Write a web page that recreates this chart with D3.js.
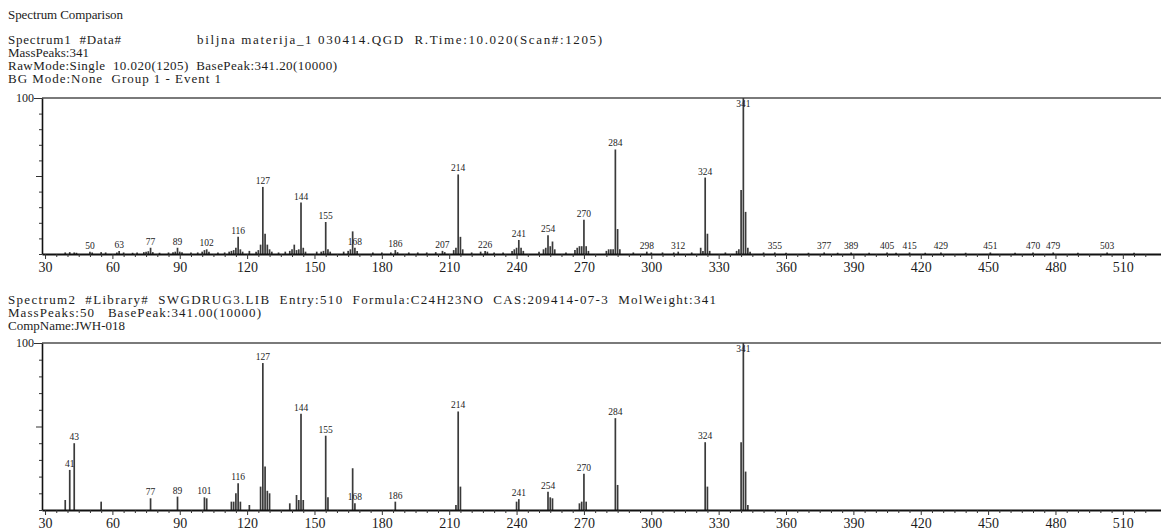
<!DOCTYPE html>
<html><head><meta charset="utf-8">
<script src="https://cdn.jsdelivr.net/npm/d3@7"></script>
<style>
body{margin:0;background:#fff}
svg{display:block}
text{font-family:"Liberation Serif","Times New Roman",serif;fill:#1c1c1c;white-space:pre}
</style>
</head><body><div id="chart"></div>
<script>
// ---------- DATA ----------
const titleText = "Spectrum Comparison";
const header1Left = ["Spectrum1  #Data#", "MassPeaks:341", "RawMode:Single  10.020(1205)  BasePeak:341.20(10000)", "BG Mode:None  Group 1 - Event 1"];
const header1Right = "biljna materija_1 030414.QGD  R.Time:10.020(Scan#:1205)";
const header2 = ["Spectrum2  #Library#  SWGDRUG3.LIB  Entry:510  Formula:C24H23NO  CAS:209414-07-3  MolWeight:341", "MassPeaks:50   BasePeak:341.00(10000)", "CompName:JWH-018"];

// Spectrum 1 (measured) m/z and relative intensity (%)
const mz1 = [39,41,43,44,50,51,55,57,62,63,65,69,71,74,75,76,77,78,81,85,87,88,89,90,91,95,98,100,101,102,103,107,110,112,113,114,115,116,117,118,121,124,125,126,127,128,129,130,131,134,137,139,140,141,142,143,144,145,146,151,153,154,155,156,157,163,165,166,167,168,169,176,180,184,186,187,192,196,200,204,207,208,212,213,214,215,216,220,224,226,227,230,234,238,239,240,241,242,243,250,252,253,254,255,256,257,262,266,267,268,269,270,271,272,280,281,282,283,284,285,286,292,298,300,305,310,312,318,322,323,324,325,326,333,338,339,340,341,342,343,344,350,355,360,370,377,383,389,397,405,409,415,422,429,440,451,462,470,479,490,503,515];
const int1 = [1,1.2,1,0.8,1.5,1,1.2,1,1,2,1,0.8,1,1.2,1.5,1.8,4,1.2,0.8,1,1.2,1.5,4,1.5,1.2,1,1,1.5,2.5,3,1.5,1,1,1.5,2,2.5,4,11,3,1.5,2,1.5,2.5,6,43,13,6,3,1.5,1,1.5,2,3,6,2.5,3,33,4,1.5,1.5,1.5,2,20.5,3,1.5,1.5,2,3,14.5,4,2,1,1,1,2.5,1.2,1,1,1,1.2,2,1.2,2.5,4,51,11,3,1,1.5,2,1.5,1,1,2,3,4,9,4,2,1.5,3,4,12,5,8,3,1,2.5,4,5,5,22,5,2,2,3,3,3,67,16,3,1,1.5,1,1,1,1.5,1,4,2,49,13,2,1,2,3,41,100,27,4,1.5,1,1,0.8,0.8,1,0.8,1,0.8,1,0.8,1,0.8,1,0.8,1,0.8,1,1,0.8,1,0.8];
const labels1 = [50,63,77,89,102,116,127,144,155,168,186,207,214,226,241,254,270,284,298,312,324,341,355,377,389,405,415,429,451,470,479,503];

// Spectrum 2 (library, JWH-018)
const mz2 = [39,41,43,55,77,89,101,102,113,114,115,116,117,121,126,127,128,129,130,139,142,143,144,145,155,156,167,168,186,213,214,215,240,241,254,255,256,268,269,270,271,284,285,324,325,340,341,342,343];
const int2 = [6,24,40,5,7,8,7.6,7,5,5,10,16,5,3,14,88,26,11.5,10,4,9,6,57.6,6,44.5,7.6,25,4,5,3,59,14,5,6.5,11,7.6,7,4,5,21.7,5,55,15,40.6,14,40.6,100,23,3];
const labels2 = [41,43,77,89,101,116,127,144,155,168,186,214,241,254,270,284,324,341];

// Axis ticks
const xMajorTicks = [30,60,90,120,150,180,210,240,270,300,330,360,390,420,450,480,510];
const yTicks = [0,10,20,30,40,50,60,70,80,90,100];

// ---------- DRAW ----------
const W = 1161, H = 531;
const svg = d3.select("#chart").append("svg").attr("width", W).attr("height", H);

const x = d3.scaleLinear().domain([28.65, 527]).range([42, 1161]);

const txt = (s, px, py, size, len) => {
  const t = svg.append("text").attr("x", px).attr("y", py).attr("font-size", size).text(s);
  if (len) t.attr("textLength", len).attr("lengthAdjust", "spacing");
  return t;
};

txt(titleText, 8, 19, 13, 115);
const h1Len = [113, null, 329, 213];
header1Left.forEach((s, i) => txt(s, 8, 44 + i * 13, 13, h1Len[i]));
txt(header1Right, 197, 44, 13, 405);
const h2Len = [708, 253, null];
header2.forEach((s, i) => txt(s, 8, 304 + i * 13, 13, h2Len[i]));

function drawPanel(top, base, mz, inten, labels) {
  const y = d3.scaleLinear().domain([0, 100]).range([base, top]);
  const g = svg.append("g");
  const data = mz.map((m, i) => ({ m, v: inten[i] }));

  g.append("line").attr("x1", 42).attr("x2", W).attr("y1", top).attr("y2", top)
    .attr("stroke", "#7a7a7a").attr("stroke-width", 2.2);

  g.selectAll("line.bar").data(data).join("line").attr("class", "bar")
    .attr("x1", d => x(d.m)).attr("x2", d => x(d.m))
    .attr("y1", y(0)).attr("y2", d => y(d.v))
    .attr("stroke", "#3a3a3a").attr("stroke-width", 1.7);

  const ya = g.append("g").attr("transform", `translate(42,0)`)
    .call(d3.axisLeft(y).tickValues(yTicks).tickSizeInner(3).tickSizeOuter(0).tickPadding(3)
      .tickFormat(d => d === 100 ? "100" : ""));
  ya.select(".domain").attr("stroke", "#111").attr("stroke-width", 1.6);
  ya.selectAll(".tick line").attr("stroke", "#333").attr("x2", d => d === 50 ? -6 : (d === 100 ? -8 : -3));
  ya.selectAll(".tick text").attr("font-size", 12).attr("font-family", "Liberation Serif").attr("x", -8).attr("fill", "#1c1c1c");

  const xa = g.append("g").attr("transform", `translate(0,${base})`)
    .call(d3.axisBottom(x).tickValues(d3.range(30, 525, 5)).tickSizeInner(3).tickSizeOuter(0).tickPadding(5)
      .tickFormat(d => xMajorTicks.includes(d) ? d : ""));
  xa.select(".domain").attr("stroke", "#111").attr("stroke-width", 2.2);
  xa.selectAll(".tick line").attr("stroke", "#333").attr("y2", d => xMajorTicks.includes(d) ? 5 : 3);
  xa.selectAll(".tick text").attr("font-size", 14).attr("font-family", "Liberation Serif").attr("fill", "#1c1c1c");

  const lab = labels.map(m => {
    const d = data.find(e => e.m === m);
    return { m, v: d ? d.v : 1 };
  });
  g.selectAll("text.pl").data(lab).join("text").attr("class", "pl")
    .attr("x", d => x(d.m)).attr("y", d => Math.max(y(d.v) - 3, top + 9))
    .attr("text-anchor", "middle").attr("font-size", 9.5).attr("fill", "#2a2a3a")
    .text(d => d.m);
}

drawPanel(98, 254, mz1, int1, labels1);
drawPanel(343, 510, mz2, int2, labels2);
</script>
</body></html>
